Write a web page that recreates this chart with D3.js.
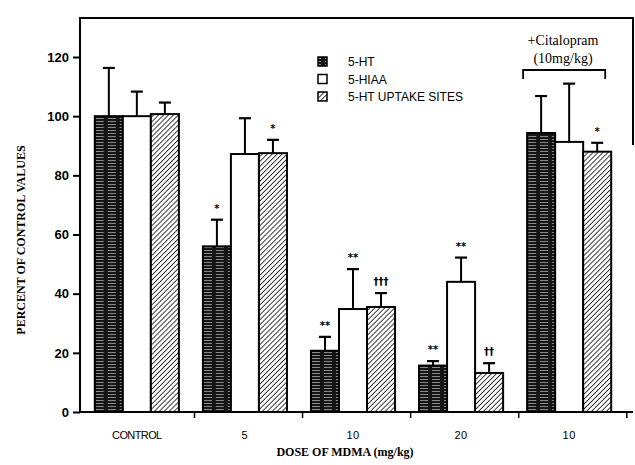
<!DOCTYPE html>
<html><head><meta charset="utf-8">
<script src="https://cdn.jsdelivr.net/npm/d3@7"></script>
<style>body{margin:0;background:#fff}svg{display:block}</style>
</head><body><div id="chart"></div>
<script>
const categories = ["CONTROL", "5", "10", "20", "10"];
const seriesNames = ["5-HT", "5-HIAA", "5-HT UPTAKE SITES"];
const ht = [100, 56, 20.7, 15.7, 94.3];
const htErr = [116.3, 65, 25.4, 17.2, 106.8];
const hiaa = [100, 87.2, 34.8, 44, 91.3];
const hiaaErr = [108.3, 99.3, 48.3, 52.2, 111];
const uptake = [100.7, 87.5, 35.5, 13.2, 88];
const uptakeErr = [104.6, 92, 40.2, 16.5, 91];
const sigHt = ["", "*", "**", "**", ""];
const sigHiaa = ["", "", "**", "**", ""];
const sigUptake = ["", "*", "†††", "††", "*"];
const yTicks = [0, 20, 40, 60, 80, 100, 120];

const W = 635, H = 465;
const svg = d3.select("#chart").append("svg").attr("width", W).attr("height", H);
const defs = svg.append("defs");
const pd = defs.append("pattern").attr("id","dark").attr("patternUnits","userSpaceOnUse").attr("width",12).attr("height",3);
pd.append("rect").attr("width",12).attr("height",3).attr("fill","#151515");
pd.append("line").attr("x1",1).attr("x2",9).attr("y1",1.5).attr("y2",1.5).attr("stroke","#bdbdbd").attr("stroke-width",0.7);
const ph = defs.append("pattern").attr("id","hatch").attr("patternUnits","userSpaceOnUse").attr("width",3.5).attr("height",3.5).attr("patternTransform","rotate(45)");
ph.append("rect").attr("width",3.5).attr("height",3.5).attr("fill","#fff");
ph.append("line").attr("x1",0).attr("x2",0).attr("y1",0).attr("y2",3.5).attr("stroke","#111").attr("stroke-width",1.6);

const x0 = d3.scaleBand().domain(d3.range(categories.length)).range([84, 622]).paddingInner(0.222).paddingOuter(0.1);
const x1 = d3.scaleBand().domain(d3.range(3)).range([0, x0.bandwidth()]);
const y = d3.scaleLinear().domain([0, 120]).range([412, 57]);

const fills = ["url(#dark)", "#fff", "url(#hatch)"];
const vals = [ht, hiaa, uptake], errs = [htErr, hiaaErr, uptakeErr], sigs = [sigHt, sigHiaa, sigUptake];

svg.append("path").attr("d", `M80,412 V18 H633 V145`).attr("fill","none").attr("stroke","#000").attr("stroke-width",2);

categories.forEach((c, i) => {
  const g = svg.append("g").attr("transform", `translate(${x0(i)},0)`);
  vals.forEach((arr, s) => {
    const bx = x1(s), bw = x1.bandwidth(), cx = bx + bw/2;
    g.append("line").attr("x1",cx).attr("x2",cx).attr("y1",y(arr[i])).attr("y2",y(errs[s][i])).attr("stroke","#000").attr("stroke-width",2);
    g.append("line").attr("x1",cx-6).attr("x2",cx+6).attr("y1",y(errs[s][i])).attr("y2",y(errs[s][i])).attr("stroke","#000").attr("stroke-width",2.2);
    g.append("rect").attr("x",bx).attr("y",y(arr[i])).attr("width",bw).attr("height",y(0)-y(arr[i]))
      .attr("fill",fills[s]).attr("stroke","#000").attr("stroke-width",2);
    if (sigs[s][i]) {
      g.append("text").attr("x",cx).attr("y",y(errs[s][i])-8).attr("text-anchor","middle").attr("fill","#000")
        .attr("font-family","DejaVu Sans, sans-serif").attr("font-weight","bold").attr("font-size",10).text(sigs[s][i]);
    }
  });
});

svg.append("line").attr("x1",80).attr("x2",633).attr("y1",412).attr("y2",412).attr("stroke","#000").attr("stroke-width",2);
const gap = x0.step() - x0.bandwidth();
categories.forEach((c, i) => {
  const xr = x0(i) + x0.bandwidth() + gap*0.65;
  svg.append("line").attr("x1",xr).attr("x2",xr).attr("y1",412).attr("y2",418).attr("stroke","#000").attr("stroke-width",1.5);
  svg.append("text").attr("x", x0(i)+x0.bandwidth()/2).attr("y",439).attr("text-anchor","middle")
    .attr("font-family","Liberation Sans, Arial, sans-serif").attr("font-size",11).attr("letter-spacing", c.length>2?-0.6:0.5).text(c);
});

const yAxis = d3.axisLeft(y).tickValues(yTicks).tickSize(7).tickPadding(4);
const ya = svg.append("g").attr("transform","translate(80,0)").call(yAxis);
ya.select(".domain").remove();
ya.selectAll("line").attr("stroke-width",2);
ya.selectAll("text").attr("font-family","Liberation Sans, Arial, sans-serif").attr("font-size",13).attr("font-weight","bold").attr("fill","#000");

svg.append("text").attr("transform","translate(25,240) rotate(-90)").attr("text-anchor","middle")
  .attr("font-family","Liberation Serif, Times New Roman, serif").attr("font-weight","bold").attr("font-size",12).text("PERCENT OF CONTROL VALUES");
svg.append("text").attr("x",345).attr("y",456).attr("text-anchor","middle")
  .attr("font-family","Liberation Serif, Times New Roman, serif").attr("font-weight","bold").attr("font-size",12).text("DOSE OF MDMA (mg/kg)");

seriesNames.forEach((n, s) => {
  const ly = 57 + s*17.5;
  svg.append("rect").attr("x",318).attr("y",ly).attr("width",9).attr("height",9).attr("fill",fills[s]).attr("stroke","#000").attr("stroke-width",1.5);
  svg.append("text").attr("x",348).attr("y",ly+9).attr("font-family","Liberation Sans, Arial, sans-serif").attr("font-size",12).text(n);
});

const cg = x0(4);
svg.append("text").attr("x",563).attr("y",45).attr("text-anchor","middle").attr("font-family","Liberation Serif, Times New Roman, serif").attr("font-size",14).text("+Citalopram");
svg.append("text").attr("x",563).attr("y",63).attr("text-anchor","middle").attr("font-family","Liberation Serif, Times New Roman, serif").attr("font-size",14).text("(10mg/kg)");
svg.append("path").attr("d",`M${cg-4},79 V70 H${cg+x0.bandwidth()-6} V79`).attr("fill","none").attr("stroke","#000").attr("stroke-width",1.8);
</script></body></html>
